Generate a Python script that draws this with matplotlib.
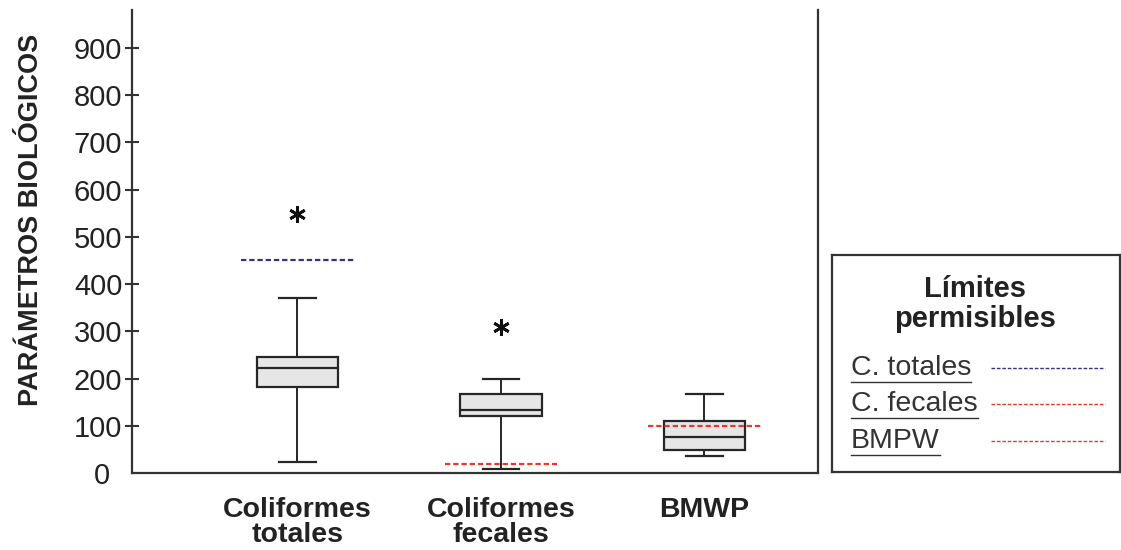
import matplotlib
matplotlib.use("Agg")
import matplotlib.pyplot as plt
from matplotlib.lines import Line2D
from matplotlib.transforms import ScaledTranslation

# ---------------- data ----------------
categories = ["Coliformes\ntotales", "Coliformes\nfecales", "BMWP"]
whisker_low = [24, 9, 35]
q1 = [183, 121, 48]
median = [222, 134, 77]
q3 = [245, 168, 110]
whisker_high = [371, 200, 168]
outliers = [[548], [308], []]
limit_values = [450, 20, 100]
limit_colors = ["#3b2f80", "#e8392b", "#e8392b"]
legend_labels = ["C. totales", "C. fecales", "BMPW"]
yticks = [0, 100, 200, 300, 400, 500, 600, 700, 800, 900]

plt.rcParams["font.family"] = ["Liberation Sans", "DejaVu Sans"]
TXT = "#222222"

fig = plt.figure(figsize=(11.21, 5.5), dpi=100)
W, H = 1121, 550
# main axes: x 132..818 px, y 10..473 px
ax = fig.add_axes([132 / W, (H - 473) / H, (818 - 132) / W, (473 - 10) / H])

positions = [1, 2, 3]
stats = []
for i in range(len(categories)):
    stats.append(dict(med=median[i], q1=q1[i], q3=q3[i],
                      whislo=whisker_low[i], whishi=whisker_high[i],
                      fliers=outliers[i], label=categories[i]))

ax.bxp(stats, positions=positions, widths=0.40, capwidths=0.18,
       patch_artist=True, showfliers=True,
       boxprops=dict(facecolor="#e6e6e6", edgecolor="#262626", linewidth=1.6),
       medianprops=dict(color="#262626", linewidth=1.6),
       whiskerprops=dict(color="#262626", linewidth=1.4),
       capprops=dict(color="#262626", linewidth=1.6),
       flierprops=dict(marker=(6, 2, 0), markersize=12, markeredgewidth=2.0,
                       markeredgecolor="#111111", markerfacecolor="#111111"))

# permissible-limit dashed lines
half = 0.277
for p, v, c in zip(positions, limit_values, limit_colors):
    ax.hlines(v, p - half, p + half, colors=c, linewidth=1.6,
              linestyles=(0, (2.4, 1.3)), zorder=4)

ax.set_xlim(0.187, 3.558)
ax.set_ylim(0, 980)
ax.set_yticks(yticks)
ax.set_yticklabels([str(t) for t in yticks])
ax.set_xticks(positions)
ax.set_xticklabels(categories, fontsize=20.5, fontweight="bold", color=TXT,
                   linespacing=0.98)
ax.tick_params(axis="x", length=0, pad=17)
ax.tick_params(axis="y", direction="inout", length=10, width=1.5,
               colors="#333333", labelsize=21, labelcolor=TXT, pad=2)

for s in ["left", "bottom", "right"]:
    ax.spines[s].set_linewidth(1.6)
    ax.spines[s].set_color("#333333")
ax.spines["top"].set_visible(False)

# hide the 0 tick mark and shift its label slightly left, as in the reference
t0 = ax.yaxis.get_major_ticks()[0]
t0.tick1line.set_visible(False)
t0.label1.set_transform(t0.label1.get_transform() +
                        ScaledTranslation(-0.12, 0, fig.dpi_scale_trans))

ax.set_ylabel("PARÁMETROS BIOLÓGICOS", fontsize=19.5, fontweight="bold",
              color=TXT)
ax.yaxis.set_label_coords(-0.128, 0.546)

# ---------------- legend box ----------------
lx0, lx1, ly0, ly1 = 832, 1120, 255, 472
lax = fig.add_axes([lx0 / W, (H - ly1) / H, (lx1 - lx0) / W, (ly1 - ly0) / H])
lax.set_xlim(lx0, lx1)
lax.set_ylim(ly1, ly0)
lax.set_xticks([])
lax.set_yticks([])
for s in lax.spines.values():
    s.set_linewidth(1.6)
    s.set_color("#333333")

lax.text(975, 304, "Límites\npermisibles", ha="center", va="center",
         fontsize=21, fontweight="bold", color=TXT, linespacing=1.05)

entry_y = [368, 404, 441]
texts = []
for lab, yy, c in zip(legend_labels, entry_y, limit_colors):
    t = lax.text(851, yy, lab, ha="left", va="center", fontsize=20.5,
                 color="#333333")
    texts.append(t)
    lax.add_line(Line2D([991, 1105], [yy, yy], color=c, linewidth=1.0,
                        linestyle=(0, (2.6, 1.3))))

fig.canvas.draw()
inv = lax.transData.inverted()
for t in texts:
    bb = t.get_window_extent()
    (x0, y0), (x1, _) = inv.transform([[bb.x0, bb.y0], [bb.x1, bb.y0]])
    lax.add_line(Line2D([x0, x1], [y0 + 1, y0 + 1], color="#333333",
                        linewidth=1.0))

fig.savefig("out.png", dpi=100, facecolor="white")
